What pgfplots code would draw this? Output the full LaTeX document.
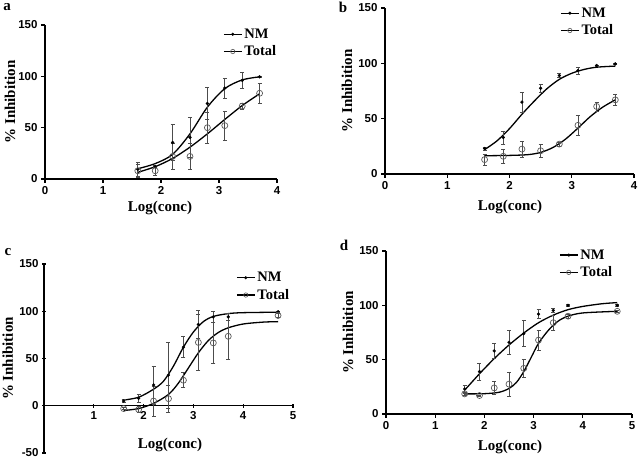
\documentclass[border=0pt]{standalone}
\usepackage{pgfplots}
\pgfplotsset{compat=1.18}
\usepackage{fontspec}
\setmainfont{Liberation Serif}
\setsansfont{Liberation Sans}

\newcommand{\lblfont}{\bfseries\fontsize{15}{17}\selectfont}
\newcommand{\legfont}{\bfseries\fontsize{14.5}{16}\selectfont}
\pgfplotsset{
  panel/.style={
    scale only axis, clip=false,
    axis lines=left, axis line style={-, line width=1.3pt, black},
    tick align=outside, major tick length=4pt,
    tick style={line width=1.1pt, black},
    ticklabel style={font=\sffamily\bfseries\fontsize{11.5}{13}\selectfont},
    /pgf/number format/assume math mode=true,
    legend style={draw=none, fill=none, font=\legfont,
      inner sep=0pt, row sep=2pt, legend cell align=left},
    legend image code/.code={\draw[mark repeat=2,mark phase=2,#1] plot coordinates {(0pt,0pt) (9pt,0pt) (18pt,0pt)};},
    ymin=0, ymax=150, ytick={0,50,100,150},
    xlabel={Log(conc)}, ylabel={\% Inhibition},
  },
  nmleg/.style={black, line width=1.3pt, mark=*, mark size=1.4pt, mark options={line width=0.3pt}},
  totleg/.style={black, line width=1.3pt, mark=o, mark size=2.2pt, mark options={gray!70!black, fill=white, line width=0.6pt}},
  fitline/.style={black, line width=1.3pt, smooth, no markers, forget plot},
  nmpts/.style={only marks, mark=*, mark size=1.5pt, black, mark options={line width=0.3pt}, forget plot,
    error bars/.cd, y dir=both, y explicit, error mark=|,
    error bar style={gray!60!black, line width=0.6pt},
    error mark options={gray!60!black, line width=0.6pt, mark size=2pt}},
  totpts/.style={only marks, mark=o, mark size=3pt, gray!70!black, mark options={fill=white, line width=0.7pt}, forget plot,
    error bars/.cd, y dir=both, y explicit, error mark=|,
    error bar style={gray!60!black, line width=0.6pt},
    error mark options={gray!60!black, line width=0.6pt, mark size=2pt}},
}

\begin{document}
\begin{tikzpicture}
\useasboundingbox (0,0) rectangle (638pt,460pt);

% ---------------- panel a
\begin{axis}[panel, at={(45pt,281pt)}, anchor=south west, width=232pt, height=154pt,
  xmin=0, xmax=4, xtick={0,1,2,3,4},
  every axis x label/.style={at={(axis description cs:0.496,-0.19)}, anchor=center, font=\lblfont},
  every axis y label/.style={at={(axis description cs:-0.151,0.5)}, anchor=center, rotate=90, font=\lblfont},
  legend style={at={(axis description cs:0.767,0.99)}, anchor=north west}]
\addlegendimage{nmleg}
\addlegendimage{totleg}
\addplot[fitline] coordinates {(1.6,10) (1.9,15) (2.2,24) (2.5,44) (2.8,70) (3.1,88) (3.4,96.5) (3.7,99.5)};
\addplot[fitline] coordinates {(1.6,6.5) (1.9,12) (2.2,20) (2.5,31) (2.8,44) (3.1,58) (3.4,71.5) (3.7,83)};
\addplot[nmpts] table[x=x, y=y, y error=e] {
x y e
1.6 9.5 7
1.9 12 1
2.2 35.5 17.5
2.5 40.5 19.5
2.8 73.5 15.5
3.1 88.5 10
3.4 96 7.5
3.7 99.5 0.5
};
\addplot[totpts] table[x=x, y=y, y error=e] {
x y e
1.6 8 6
1.9 8 4
2.2 22 13
2.5 22 13
2.8 50 15
3.1 52 14
3.4 71 3
3.7 83.5 10
};
\legend{NM, Total}
\end{axis}

% ---------------- panel b
\begin{axis}[panel, at={(385pt,286pt)}, anchor=south west, width=249pt, height=166pt,
  xmin=0, xmax=4, xtick={0,1,2,3,4},
  every axis x label/.style={at={(axis description cs:0.502,-0.197)}, anchor=center, font=\lblfont},
  every axis y label/.style={at={(axis description cs:-0.153,0.5)}, anchor=center, rotate=90, font=\lblfont},
  legend style={at={(axis description cs:0.703,1.015)}, anchor=north west}]
\addlegendimage{nmleg}
\addlegendimage{totleg}
\addplot[fitline] coordinates {(1.6,22) (1.8,30) (2.0,41) (2.2,54) (2.4,66) (2.6,77) (2.8,85.5) (3.0,91) (3.2,94.5) (3.4,96.5) (3.7,97.5)};
\addplot[fitline] coordinates {(1.6,16.5) (2.0,16.8) (2.3,17.5) (2.5,19.5) (2.7,24) (2.9,31.5) (3.1,41.5) (3.3,52) (3.5,60.5) (3.7,67)};
\addplot[nmpts] table[x=x, y=y, y error=e] {
x y e
1.6 23 1.5
1.9 33 6
2.2 65 9
2.5 77.5 4
2.8 89 2
3.1 93.5 3
3.4 98 0.5
3.7 99.5 0.5
};
\addplot[totpts] table[x=x, y=y, y error=e] {
x y e
1.6 13 5
1.9 16 6
2.2 22.5 7
2.5 21 6
2.8 27 2
3.1 44 9
3.4 61 4
3.7 67 5
};
\legend{NM, Total}
\end{axis}

% ---------------- panel c
\begin{axis}[panel, at={(44pt,7pt)}, anchor=south west, width=249pt, height=189pt,
  axis x line=middle, axis y line=left,
  every inner x axis line/.append style={-},
  every outer y axis line/.append style={-},
  every outer x axis line/.append style={-},
  every inner y axis line/.append style={-},
  xmin=0, xmax=5, xtick={1,2,3,4,5},
  ymin=-50, ymax=150, ytick={-50,0,50,100,150},
  every axis x label/.style={at={(axis description cs:0.506,0.045)}, anchor=center, font=\lblfont},
  every axis y label/.style={at={(axis description cs:-0.145,0.5)}, anchor=center, rotate=90, font=\lblfont},
  legend style={at={(axis description cs:0.771,0.968)}, anchor=north west}]
\addlegendimage{nmleg}
\addlegendimage{totleg}
\addplot[fitline] coordinates {(1.6,6) (1.9,9) (2.2,17.5) (2.4,26) (2.6,42) (2.8,62) (3.0,78) (3.2,89) (3.4,94.5) (3.7,97.5) (4.0,98.5) (4.7,99)};
\addplot[fitline] coordinates {(1.6,-5) (1.9,-3) (2.2,2.5) (2.5,12) (2.7,24) (2.9,40) (3.1,56) (3.3,69) (3.5,77.5) (3.7,82.5) (4.0,86.5) (4.4,88.5) (4.7,89)};
\addplot[nmpts] table[x=x, y=y, y error=e] {
x y e
1.6 5 1.5
1.9 8 4
2.2 22 20
2.5 32.5 35
2.8 62 11
3.1 86 15
3.4 94 6
3.7 94 4
4.7 99.5 0.5
};
\addplot[totpts] table[x=x, y=y, y error=e] {
x y e
1.6 -3 1
1.9 -4 3
2.2 5 16
2.5 7.5 14
2.8 27 8
3.1 67 30
3.4 66.5 22
3.7 73.5 24
4.7 95.5 2
};
\legend{NM, Total}
\end{axis}

% ---------------- panel d
\begin{axis}[panel, at={(386pt,46pt)}, anchor=south west, width=246pt, height=163pt,
  xmin=0, xmax=5, xtick={0,1,2,3,4,5},
  every axis x label/.style={at={(axis description cs:0.504,-0.2)}, anchor=center, font=\lblfont},
  every axis y label/.style={at={(axis description cs:-0.154,0.5)}, anchor=center, rotate=90, font=\lblfont},
  legend style={at={(axis description cs:0.703,1.022)}, anchor=north west}]
\addlegendimage{nmleg}
\addlegendimage{totleg}
\addplot[fitline] coordinates {(1.6,22) (1.9,37) (2.2,51) (2.5,63.5) (2.8,74.5) (3.1,84) (3.4,91) (3.7,96) (4.0,99) (4.4,101.5) (4.7,102.5)};
\addplot[fitline] coordinates {(1.6,18.5) (2.0,18.7) (2.3,20) (2.5,23.5) (2.65,29) (2.8,39) (2.95,52) (3.1,65) (3.3,77) (3.5,85.5) (3.7,90) (4.0,93) (4.7,94.5)};
\addplot[nmpts] table[x=x, y=y, y error=e] {
x y e
1.6 23 3
1.9 39 8
2.2 58 7
2.5 66 11
2.8 74 12
3.1 92 4
3.4 95.3 2
3.7 100 1
4.7 100 0.5
};
\addplot[totpts] table[x=x, y=y, y error=e] {
x y e
1.6 18.5 1
1.9 17 0.5
2.2 24 6
2.5 27.5 11
2.8 42 8
3.1 68 9
3.4 84 7
3.7 90 2
4.7 94.5 1
};
\legend{NM, Total}
\end{axis}

% panel letters
\node[font=\bfseries\fontsize{15}{17}\selectfont] at (7pt,453pt) {a};
\node[font=\bfseries\fontsize{15}{17}\selectfont] at (343pt,453pt) {b};
\node[font=\bfseries\fontsize{15}{17}\selectfont] at (8pt,208pt) {c};
\node[font=\bfseries\fontsize{15}{17}\selectfont] at (344pt,215pt) {d};
\end{tikzpicture}
\end{document}
